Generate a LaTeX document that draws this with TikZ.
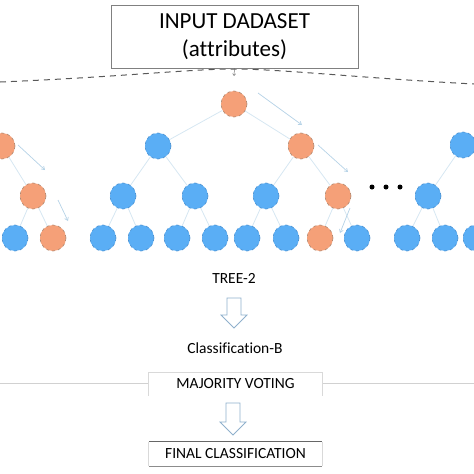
\documentclass[tikz,border=0pt]{standalone}
\usepackage{fontspec}
\setmainfont[Ligatures=NoCommon]{Carlito}
\usetikzlibrary{arrows.meta}
\definecolor{orfill}{HTML}{F5A078}
\definecolor{ordraw}{HTML}{B08870}
\definecolor{blfill}{HTML}{5AAEF5}
\definecolor{bldraw}{HTML}{4A90D0}
\definecolor{edgec}{HTML}{D6E7F2}
\definecolor{tarc}{HTML}{B5D2E6}
\definecolor{holc}{HTML}{8FB0CC}
\tikzset{
  onode/.style={circle,minimum size=26pt,inner sep=0pt,fill=orfill,draw=ordraw,dashed,line width=0.6pt},
  bnode/.style={circle,minimum size=26pt,inner sep=0pt,fill=blfill,draw=bldraw,dashed,line width=0.6pt},
  edge/.style={draw=edgec,line width=0.8pt},
  tarrow/.style={draw=tarc,line width=0.7pt,-{Straight Barb[length=3pt,width=4pt]}},
  hollow/.style={draw=holc,fill=white,line width=0.8pt,line join=miter},
  lbl/.style={font=\fontsize{15.5}{18}\selectfont,inner sep=0pt,text=black},
}
\begin{document}
\begin{tikzpicture}[x=1pt,y=-1pt]
\useasboundingbox (0,0) rectangle (474,474);
% dashed curve
\draw[dashed,dash pattern=on 6pt off 5pt,draw=black!65,line width=1pt]
  (0,82) .. controls (120,77) and (190,69) .. (234,69) .. controls (280,69) and (360,78) .. (474,84);
% title box
\node[draw=black!50,fill=white,minimum width=247pt,minimum height=63pt,inner sep=0pt,
  align=center,font=\fontsize{23}{28.5}\selectfont] (title) at (234.5,36.5) {INPUT DADASET\\(attributes)};
\coordinate (tin) at (234,76);
\draw[draw=black!55,line width=0.5pt,-{Straight Barb[length=2pt,width=3pt]}] (title.south) -- (tin);
% tree 2 nodes
\node[onode] (R) at (234,104) {};
\node[bnode] (a) at (158,146) {};
\node[onode] (b) at (301,146) {};
\node[bnode] (c) at (123,196) {};
\node[bnode] (d) at (195,196) {};
\node[bnode] (e) at (266,196) {};
\node[onode] (f) at (338,196) {};
\node[bnode] (c1) at (103,238) {};
\node[bnode] (c2) at (141,238) {};
\node[bnode] (d1) at (177,238) {};
\node[bnode] (d2) at (215,238) {};
\node[bnode] (e1) at (247,238) {};
\node[bnode] (e2) at (286,238) {};
\node[onode] (f1) at (320,238) {};
\node[bnode] (f2) at (357,238) {};
% left tree
\node[onode] (g) at (2,146) {};
\node[onode] (h) at (33,196) {};
\node[bnode] (h1) at (15,238) {};
\node[onode] (h2) at (53,238) {};
% right tree
\node[bnode] (i) at (463,145) {};
\node[bnode] (j) at (428,196) {};
\node[bnode] (j1) at (407,238) {};
\node[bnode] (j2) at (445,238) {};
\node[bnode] (k) at (476,238) {};
% edges
\foreach \p/\q in {R/a,R/b,a/c,a/d,b/e,b/f,c/c1,c/c2,d/d1,d/d2,e/e1,e/e2,f/f1,f/f2,g/h,h/h1,h/h2,i/j,j/j1,j/j2}
  \draw[edge] (\p) -- (\q);
% path arrows
\coordinate (p1s) at (258,93);  \coordinate (p1e) at (302,125);
\coordinate (p2s) at (318,145); \coordinate (p2e) at (348,172);
\coordinate (p3s) at (350,208); \coordinate (p3e) at (340,233);
\coordinate (p4s) at (18,145);  \coordinate (p4e) at (45,170);
\coordinate (p5s) at (58,200);  \coordinate (p5e) at (68,221);
\draw[tarrow] (p1s) -- (p1e);
\draw[tarrow] (p2s) -- (p2e);
\draw[tarrow] (p3s) -- (p3e);
\draw[tarrow] (p4s) -- (p4e);
\draw[tarrow] (p5s) -- (p5e);
% dots
\foreach \x [count=\n] in {372,386,400}
  \node[circle,fill=black,inner sep=0pt,minimum size=5pt] (dot\n) at (\x,187) {};
% labels
\node[lbl] (tree) at (234,278) {TREE-2};
\draw[hollow] (227,298) -- (241,298) -- (241,315) -- (247,315) -- (234,328) -- (221,315) -- (227,315) -- cycle;
\node[lbl] (clsb) at (235,348) {Classification-B};
% majority voting
\node[lbl,minimum width=173pt,minimum height=23pt] (mv) at (235.5,384) {MAJORITY VOTING};
\draw[draw=black!18,line width=0.8pt] (0,383) -- (mv.west |- 0,383);
\draw[draw=black!18,line width=0.8pt] (mv.east |- 0,383) -- (474,383);
\draw[draw=black!15,line width=0.8pt] (mv.south west) -- (mv.north west) -- (mv.north east) -- (mv.south east);
\draw[hollow] (226,403) -- (240,403) -- (240,422) -- (246,422) -- (233,435) -- (220,422) -- (226,422) -- cycle;
% final
\node[lbl,minimum width=173pt,minimum height=24pt] (fin) at (235.5,454) {FINAL CLASSIFICATION};
\draw[draw=black!15,line width=0.8pt] (fin.north west) -- (fin.south west);
\draw[draw=black!15,line width=0.8pt] (fin.north east) -- (fin.south east);
\draw[draw=black!60,line width=1.1pt] (fin.north west) -- (fin.north east);
\draw[draw=black!45,line width=0.9pt] (fin.south west) -- (fin.south east);
\end{tikzpicture}
\end{document}
